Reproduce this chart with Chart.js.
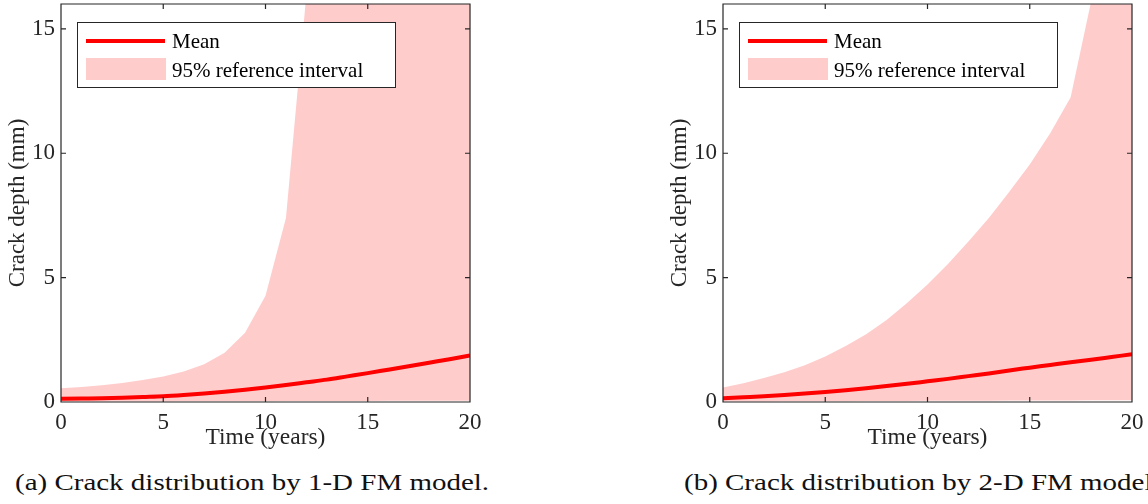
<!DOCTYPE html>
<html>
<head>
<meta charset="utf-8">
<script src="https://cdn.jsdelivr.net/npm/chart.js@4.4.0/dist/chart.umd.min.js"></script>
<style>
  html, body { margin: 0; padding: 0; background: #fff; }
  body { width: 1148px; height: 504px; position: relative; overflow: hidden; }
  canvas { position: absolute; top: 0; }
  #crack1d { left: 0; }
  #crack2d { left: 574px; }
  .cap {
    position: absolute; top: 470px;
    font-family: 'Liberation Serif', 'Times New Roman', serif;
    font-size: 23px; color: #111; white-space: nowrap;
    transform-origin: 0 0; transform: scaleX(1.26);
  }
</style>
</head>
<body>
<canvas id="crack1d" width="574" height="460"></canvas>
<canvas id="crack2d" width="574" height="460"></canvas>
<div class="cap" style="left:15px">(a) Crack distribution by 1-D FM model.</div>
<div class="cap" style="left:684px">(b) Crack distribution by 2-D FM model.</div>

<script>
'use strict';

// ---- Data (crack depth in mm, yearly) ----
const years = [0, 1, 2, 3, 4, 5, 6, 7, 8, 9, 10, 11, 12, 13, 14, 15, 16, 17, 18, 19, 20];

const mean1D  = [0.13, 0.14, 0.15, 0.17, 0.20, 0.23, 0.28, 0.34, 0.41, 0.49, 0.58,
                 0.68, 0.79, 0.90, 1.03, 1.16, 1.30, 1.44, 1.58, 1.72, 1.87];
const upper1D = [0.55, 0.60, 0.67, 0.76, 0.88, 1.03, 1.23, 1.52, 1.98, 2.78, 4.27,
                 7.40, 16.4, 31, 52, 80, 115, 160, 210, 270, 340];
const lower1D = [0.02, 0.02, 0.02, 0.02, 0.02, 0.02, 0.03, 0.03, 0.03, 0.03, 0.03,
                 0.04, 0.04, 0.04, 0.04, 0.04, 0.05, 0.05, 0.05, 0.05, 0.05];

const mean2D  = [0.15, 0.19, 0.23, 0.28, 0.34, 0.40, 0.47, 0.55, 0.64, 0.73, 0.83,
                 0.93, 1.04, 1.15, 1.27, 1.38, 1.49, 1.60, 1.70, 1.81, 1.92];
const upper2D = [0.58, 0.75, 0.96, 1.20, 1.48, 1.83, 2.25, 2.72, 3.30, 3.98, 4.72,
                 5.55, 6.45, 7.40, 8.45, 9.55, 10.8, 12.25, 16.1, 22, 30];
const lower2D = [0.02, 0.02, 0.02, 0.03, 0.03, 0.03, 0.03, 0.04, 0.04, 0.04, 0.05,
                 0.05, 0.05, 0.05, 0.06, 0.06, 0.06, 0.06, 0.07, 0.07, 0.07];

const xTicks = [0, 5, 10, 15, 20];
const yTicks = [0, 5, 10, 15];

const LABEL_MEAN = 'Mean';
const LABEL_BAND = '95% reference interval';

// ---- Style ----
const FONT = "'Liberation Serif', 'Times New Roman', serif";
const INK = '#262626';
const RED = '#ff0000';
const BAND = '#ffcccc';

Chart.defaults.font.family = FONT;
Chart.defaults.color = INK;

const pts = (arr) => arr.map((v, i) => ({ x: years[i], y: v }));

// Box round the plot area with inward ticks on all four sides
const axisFrame = {
  id: 'axisFrame',
  afterDatasetsDraw(chart) {
    const { ctx, chartArea: a, scales: { x, y } } = chart;
    const len = 5;
    ctx.save();
    ctx.strokeStyle = INK;
    ctx.lineWidth = 1.2;
    ctx.beginPath();
    ctx.rect(a.left, a.top, a.right - a.left, a.bottom - a.top);
    xTicks.forEach(v => {
      const px = x.getPixelForValue(v);
      ctx.moveTo(px, a.bottom); ctx.lineTo(px, a.bottom - len);
      ctx.moveTo(px, a.top);    ctx.lineTo(px, a.top + len);
    });
    yTicks.forEach(v => {
      const py = y.getPixelForValue(v);
      ctx.moveTo(a.left, py);  ctx.lineTo(a.left + len, py);
      ctx.moveTo(a.right, py); ctx.lineTo(a.right - len, py);
    });
    ctx.stroke();
    ctx.restore();
  }
};

// Legend box in the upper left of the plot area
const boxLegend = {
  id: 'boxLegend',
  afterDraw(chart) {
    const { ctx, chartArea: a } = chart;
    const ds = chart.data.datasets;
    const bx = a.left + 16, by = a.top + 18, bw = 318, bh = 65;
    ctx.save();
    ctx.fillStyle = '#fff';
    ctx.fillRect(bx, by, bw, bh);
    ctx.strokeStyle = INK;
    ctx.lineWidth = 1;
    ctx.strokeRect(bx + 0.5, by + 0.5, bw, bh);

    // mean line sample
    ctx.strokeStyle = ds[0].borderColor;
    ctx.lineWidth = ds[0].borderWidth;
    ctx.beginPath();
    ctx.moveTo(bx + 9, by + 19);
    ctx.lineTo(bx + 88, by + 19);
    ctx.stroke();

    // band patch sample
    ctx.fillStyle = ds[1].backgroundColor;
    ctx.fillRect(bx + 9, by + 36, 80, 22);

    ctx.fillStyle = '#000';
    ctx.font = '21px ' + FONT;
    ctx.textBaseline = 'middle';
    ctx.fillText(ds[0].label, bx + 95, by + 20);
    ctx.fillText(ds[1].label, bx + 95, by + 49);
    ctx.restore();
  }
};

function makeCrackChart(canvasId, mean, upper, lower, yAxisWidth, padRight, yTitlePad) {
  const el = document.getElementById(canvasId);
  return new Chart(el, {
    type: 'line',
    data: {
      datasets: [
        {
          label: LABEL_MEAN,
          data: pts(mean),
          borderColor: RED,
          borderWidth: 4,
          pointRadius: 0,
          cubicInterpolationMode: 'monotone',
          fill: false,
          order: 0,
        },
        {
          label: LABEL_BAND,
          data: pts(upper),
          borderWidth: 0,
          borderColor: 'rgba(0,0,0,0)',
          backgroundColor: BAND,
          pointRadius: 0,
          tension: 0,
          fill: '+1',
          order: 1,
        },
        {
          label: 'lower',
          data: pts(lower),
          borderWidth: 0,
          borderColor: 'rgba(0,0,0,0)',
          pointRadius: 0,
          tension: 0,
          fill: false,
          order: 2,
        },
      ],
    },
    options: {
      responsive: false,
      animation: false,
      layout: { padding: { left: 0, right: padRight, top: 4, bottom: 0 } },
      plugins: { legend: { display: false }, tooltip: { enabled: false } },
      scales: {
        x: {
          type: 'linear',
          min: 0, max: 20,
          afterBuildTicks: (s) => { s.ticks = xTicks.map(v => ({ value: v })); },
          afterFit: (s) => { s.height = 58; s.paddingLeft = 0; s.paddingRight = 0; },
          grid: { display: false, drawTicks: false },
          border: { display: false },
          ticks: { font: { size: 23 }, color: INK, padding: 7, maxRotation: 0 },
          title: {
            display: true, text: 'Time (years)',
            font: { size: 23.5 }, color: INK,
            padding: { top: 0, bottom: 8 },
          },
        },
        y: {
          type: 'linear',
          min: 0, max: 16,
          afterBuildTicks: (s) => { s.ticks = yTicks.map(v => ({ value: v })); },
          afterFit: (s) => { s.width = yAxisWidth; s.paddingTop = 0; s.paddingBottom = 0; },
          grid: { display: false, drawTicks: false },
          border: { display: false },
          ticks: { font: { size: 23 }, color: INK, padding: 6 },
          title: {
            display: true, text: 'Crack depth (mm)',
            font: { size: 23 }, color: INK,
            padding: { top: yTitlePad, bottom: 0 },
          },
        },
      },
    },
    plugins: [axisFrame, boxLegend],
  });
}

makeCrackChart('crack1d', mean1D, upper1D, lower1D, 61, 104, 4);
makeCrackChart('crack2d', mean2D, upper2D, lower2D, 149, 16, 92);
</script>
</body>
</html>
